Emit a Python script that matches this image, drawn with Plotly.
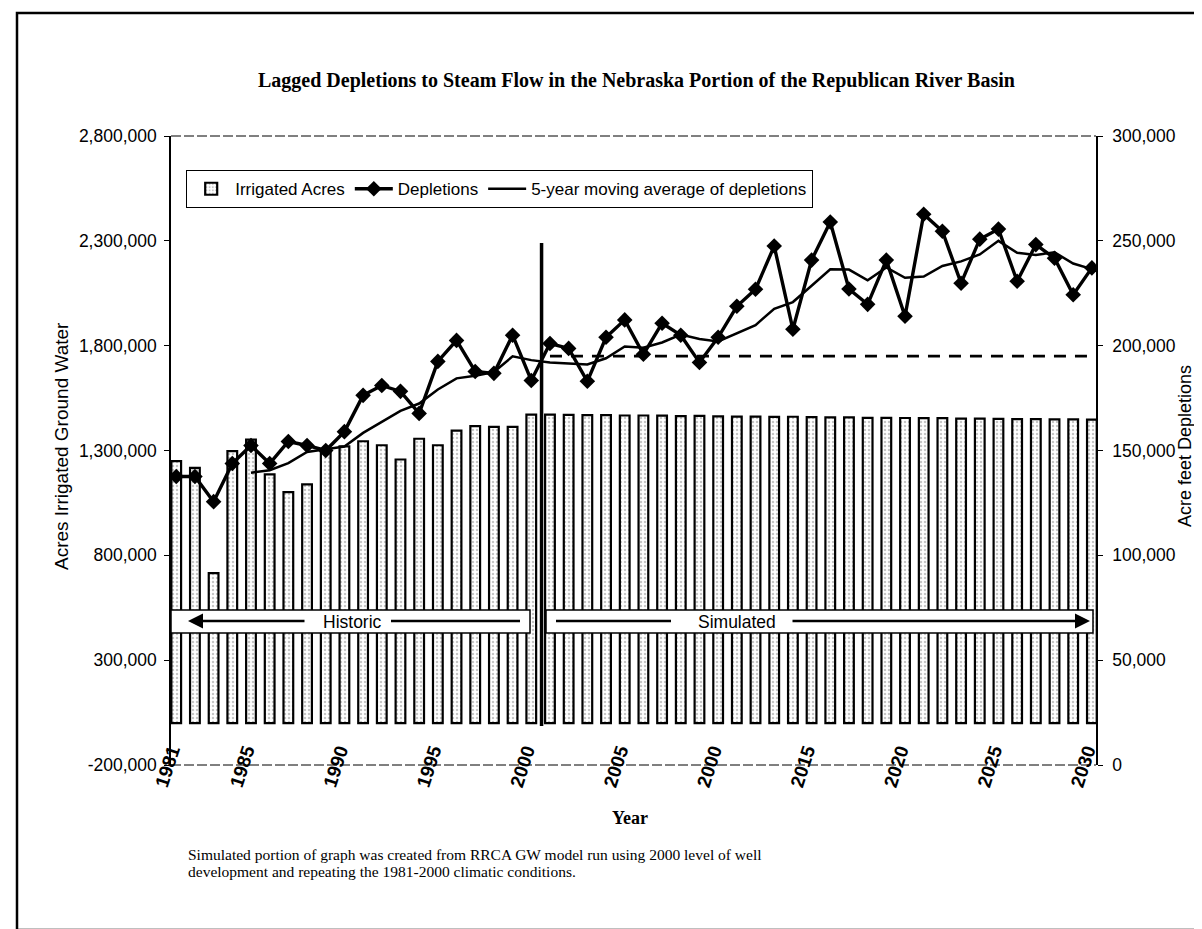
import plotly.graph_objects as go

years = list(range(1981, 2031))

irrigated_acres = [
    1249000, 1217000, 715000, 1297000, 1352000, 1186000, 1101000, 1138000, 1289000, 1320000,
    1344000, 1325000, 1257000, 1356000, 1325000, 1395000, 1416000, 1413000, 1413000, 1471000,
    1471000, 1470000, 1469000, 1469000, 1467000, 1467000, 1466000, 1464000, 1465000, 1463000,
    1462000, 1462000, 1460000, 1461000, 1459000, 1458000, 1458000, 1456000, 1456000, 1455000,
    1454000, 1454000, 1452000, 1452000, 1451000, 1450000, 1450000, 1448000, 1448000, 1447000,
]

depletions = [
    137600, 137600, 125600, 143800, 152400, 143800, 154300, 152400, 150000, 159000,
    176300, 181000, 178200, 167700, 192500, 202500, 187700, 186800, 205000, 183400,
    201000, 198700, 183000, 204000, 212300, 195900, 210700, 205000, 192000, 204000,
    218800, 226900, 247500, 207800, 240800, 259000, 227000, 219700, 240800, 214000,
    262700, 254600, 229800, 250800, 255600, 230700, 248200, 241700, 224300, 237100,
]

moving_average = [
    None, None, None, None, 139400, 140600, 144000, 149300, 150600, 151900,
    158400, 163700, 168900, 172400, 179100, 184400, 185700, 187400, 194900, 193100,
    192000, 191500, 191000, 194000, 199600, 199000, 201500, 205300, 203200, 202000,
    206000, 209800, 217600, 220800, 228600, 236400, 236300, 231200, 237300, 232400,
    233000, 238000, 240200, 243500, 250000, 244300, 243300, 244500, 239200, 236500,
]

baseline_years = list(range(2001, 2031))
baseline_2000_level = [195000] * len(baseline_years)

tick_years = [1981, 1985, 1990, 1995, 2000, 2005, 2010, 2015, 2020, 2025, 2030]
tick_labels = ["1981", "1985", "1990", "1995", "2000", "2005", "2000", "2015", "2020", "2025", "2030"]

left_ticks = [-200000, 300000, 800000, 1300000, 1800000, 2300000, 2800000]
left_tick_labels = ["-200,000", "300,000", "800,000", "1,300,000", "1,800,000", "2,300,000", "2,800,000"]
right_ticks = [0, 50000, 100000, 150000, 200000, 250000, 300000]

W, H = 1202, 929
L, R, T, B = 163, 114, 128, 172
PW, PH = W - L - R, H - T - B

SANS = "Liberation Sans, Arial, sans-serif"
SERIF = "Liberation Serif, Times New Roman, serif"


def px(xp):
    return (xp - L) / PW


def py(yp):
    return (H - B - yp) / PH


fig = go.Figure()

fig.add_trace(go.Bar(
    x=years, y=irrigated_acres, name="Irrigated Acres", width=0.52,
    marker=dict(color="white", line=dict(color="black", width=2.2),
                pattern=dict(shape=".", fgcolor="#8c8c8c", size=4, solidity=0.3)),
    yaxis="y",
))

fig.add_trace(go.Scatter(
    x=years, y=depletions, name="Depletions", mode="lines+markers",
    line=dict(color="black", width=3.4),
    marker=dict(symbol="diamond", size=12, color="black"),
    yaxis="y2",
))

fig.add_trace(go.Scatter(
    x=years, y=moving_average, name="5-year moving average of depletions", mode="lines",
    line=dict(color="black", width=2.5), connectgaps=False,
    yaxis="y2",
))

fig.add_trace(go.Scatter(
    x=baseline_years, y=baseline_2000_level, mode="lines", showlegend=False,
    line=dict(color="black", width=2.8, dash="12px,9px"),
    yaxis="y2", hoverinfo="skip",
))

fig.update_layout(
    width=W, height=H,
    margin=dict(l=L, r=R, t=T, b=B),
    paper_bgcolor="white", plot_bgcolor="white",
    font=dict(family=SANS, color="black"),
    xaxis=dict(
        range=[1980.72, 2030.22], tickvals=tick_years, ticktext=tick_labels,
        tickangle=-72, tickfont=dict(size=19, family=SANS, color="black", weight="bold"),
        showgrid=False, zeroline=False, showline=False, ticks="",
        anchor="free", position=py(727), ticklabelshift=-5,
    ),
    yaxis=dict(
        range=[-200000, 2800000], tickvals=left_ticks, ticktext=left_tick_labels,
        tickfont=dict(size=17.5), showgrid=False, zeroline=False,
        showline=True, linecolor="black", linewidth=1.5, ticks="outside", ticklen=5,
        tickcolor="black", anchor="x", ticklabelstandoff=4,
    ),
    yaxis2=dict(
        range=[0, 300000], tickvals=right_ticks, tickformat=",",
        tickfont=dict(size=17.5), showgrid=False, zeroline=False,
        showline=True, linecolor="black", linewidth=1.5, ticks="outside", ticklen=5,
        tickcolor="black", overlaying="y", side="right", anchor="x", ticklabelstandoff=6,
    ),
    legend=dict(
        orientation="h", x=px(178), y=py(162), xanchor="left", yanchor="top",
        bordercolor="black", borderwidth=1.2, bgcolor="white",
        font=dict(size=17, family=SANS),
        itemwidth=38, tracegroupgap=0,
    ),
    showlegend=True,
)

shapes = []
shapes.append(dict(type="line", xref="paper", yref="paper", x0=0, x1=1, y0=1, y1=1,
                   line=dict(color="black", width=1, dash="10px,3px")))
shapes.append(dict(type="line", xref="paper", yref="paper", x0=0, x1=1, y0=0, y1=0,
                   line=dict(color="black", width=1, dash="10px,3px")))
shapes.append(dict(type="rect", xref="paper", yref="paper",
                   x0=px(9), x1=px(1195), y0=py(922), y1=py(5),
                   line=dict(color="black", width=2.5)))
shapes.append(dict(type="rect", xref="paper", yref="paper",
                   x0=px(163), x1=px(522), y0=py(625), y1=py(602),
                   line=dict(color="black", width=1.5), fillcolor="white", layer="above"))
shapes.append(dict(type="rect", xref="paper", yref="paper",
                   x0=px(538), x1=px(1085), y0=py(625), y1=py(602),
                   line=dict(color="black", width=1.5), fillcolor="white", layer="above"))
shapes.append(dict(type="line", xref="paper", yref="paper", x0=px(383), x1=px(512),
                   y0=py(613), y1=py(613), line=dict(color="black", width=2.5), layer="above"))
shapes.append(dict(type="line", xref="paper", yref="paper", x0=px(548), x1=px(663),
                   y0=py(613), y1=py(613), line=dict(color="black", width=2.5), layer="above"))
shapes.append(dict(type="line", xref="x", yref="paper", x0=2000.55, x1=2000.55,
                   y0=py(718), y1=py(235), line=dict(color="black", width=3.5), layer="above"))
fig.update_layout(shapes=shapes)


def text_ann(text, x, y, size, family=SANS, xanchor="center", angle=0):
    return dict(text=text, xref="paper", yref="paper", x=px(x), y=py(y),
                xanchor=xanchor, yanchor="middle", textangle=angle, showarrow=False,
                font=dict(family=family, size=size))


ann = [
    text_ann("<b>Lagged Depletions to Steam Flow in the Nebraska Portion of the Republican River Basin</b>",
             628, 72, 20, SERIF),
    text_ann("<b>Year</b>", 622, 810, 18, SERIF),
    text_ann("Simulated portion of graph was created from RRCA GW model run using 2000 level of well",
             178, 846, 15.5, SERIF, xanchor="left"),
    text_ann("development and repeating the 1981-2000 climatic conditions.",
             178, 863, 15.5, SERIF, xanchor="left"),
    text_ann("Acres Irrigated Ground Water", 53, 438, 19, angle=-90),
    text_ann("Acre feet Depletions", 1177, 438, 18, angle=-90),
    text_ann("Historic", 344, 613.5, 17.5),
    text_ann("Simulated", 729, 613.5, 17.5),
]
ann.append(dict(text="", xref="paper", yref="paper", x=px(180), y=py(613),
                axref="pixel", ayref="pixel", ax=118, ay=0,
                showarrow=True, arrowhead=2, arrowsize=1.2, arrowwidth=2.5, arrowcolor="black"))
ann.append(dict(text="", xref="paper", yref="paper", x=px(1082), y=py(613),
                axref="pixel", ayref="pixel", ax=-299, ay=0,
                showarrow=True, arrowhead=2, arrowsize=1.2, arrowwidth=2.5, arrowcolor="black"))
fig.update_layout(annotations=ann)

fig.write_html("out.html")
